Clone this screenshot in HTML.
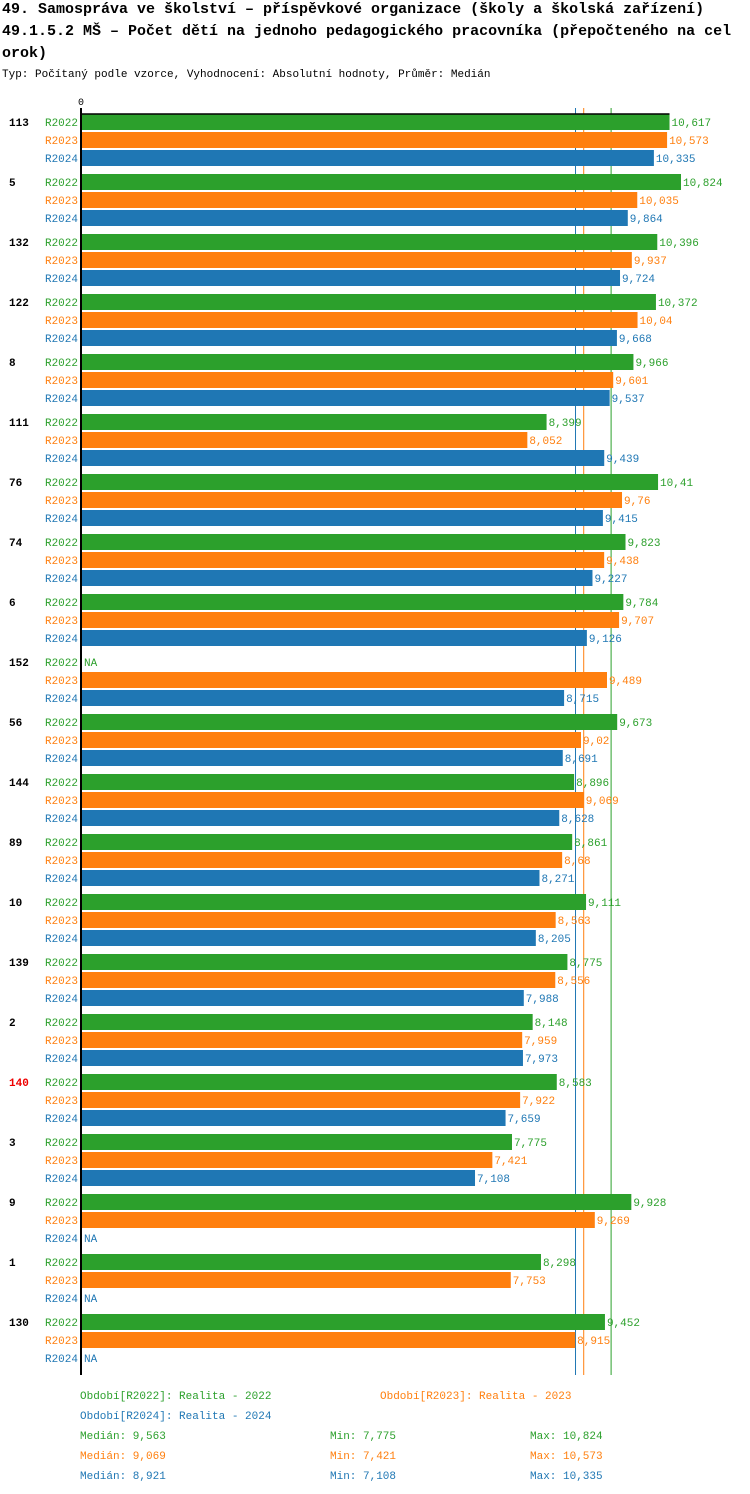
<!DOCTYPE html>
<html><head><meta charset="utf-8"><style>
body{margin:0;background:#fff;width:750px;height:1494px;overflow:hidden}
svg{display:block;font-family:"Liberation Mono",monospace}
</style></head><body>
<svg id="c" width="750" height="1494">
<text x="2" y="13" font-size="15" font-weight="bold">49. Samospráva ve školství – příspěvkové organizace (školy a školská zařízení)</text>
<text x="2" y="35" font-size="15" font-weight="bold">49.1.5.2 MŠ – Počet dětí na jednoho pedagogického pracovníka (přepočteného na cel</text>
<text x="2" y="57" font-size="15" font-weight="bold">orok)</text>
<text x="2" y="77" font-size="11">Typ: Počítaný podle vzorce, Vyhodnocení: Absolutní hodnoty, Průměr: Medián</text>
<text x="78" y="105" font-size="10">0</text>
</svg>
<script>
const categories=["113","5","132","122","8","111","76","74","6","152","56","144","89","10","139","2","140","3","9","1","130"];
const seriesNames=["R2022","R2023","R2024"];
const r2022=[10.617,10.824,10.396,10.372,9.966,8.399,10.41,9.823,9.784,null,9.673,8.896,8.861,9.111,8.775,8.148,8.583,7.775,9.928,8.298,9.452];
const r2023=[10.573,10.035,9.937,10.04,9.601,8.052,9.76,9.438,9.707,9.489,9.02,9.069,8.68,8.563,8.556,7.959,7.922,7.421,9.269,7.753,8.915];
const r2024=[10.335,9.864,9.724,9.668,9.537,9.439,9.415,9.227,9.126,8.715,8.691,8.628,8.271,8.205,7.988,7.973,7.659,7.108,null,null,null];
const medians=[9.563,9.069,8.921];
const mins=[7.775,7.421,7.108];
const maxs=[10.824,10.573,10.335];
const colors=["#2ca02c","#ff7f0e","#1f77b4"];
const NS="http://www.w3.org/2000/svg";
const svg=document.getElementById('c');
const X0=81,K=600/10.824;
const x=v=>X0+v*K;
const gy=i=>114+i*60;
function el(t,a,txt){const e=document.createElementNS(NS,t);for(const k in a)e.setAttribute(k,a[k]);if(txt!=null)e.textContent=txt;svg.appendChild(e);return e;}
const fmt=v=>String(v).replace('.',',');
const series=[r2022,r2023,r2024];
const bottom=gy(categories.length)+1;
medians.forEach((m,j)=>{
  const ln=el('line',{x1:x(m),x2:x(m),y1:108,y2:bottom,stroke:colors[j],'stroke-width':1});
  
  
});
categories.forEach((c,i)=>{
  const t=el('text',{x:9,y:gy(i)+12,'font-size':11,'font-weight':'bold',fill:c==="140"?"#e00":"#000"},c);
  
  
  series.forEach((s,j)=>{
    const y=gy(i)+j*18;
    const l=el('text',{x:78,y:y+12,'font-size':11,'text-anchor':'end',fill:colors[j]},seriesNames[j]);
    
    
    const v=s[i];
    if(v==null){
      const n=el('text',{x:84,y:y+12,'font-size':11,fill:colors[j]},'NA');
      
      
      return;
    }
    const r=el('rect',{x:X0,y:y,width:x(v)-X0,height:16,fill:colors[j]});
    
    
    const vt=el('text',{x:x(v)+2,y:y+12,'font-size':11,fill:colors[j]},fmt(v));
    
    
  });
});
const ax=el('line',{x1:X0,x2:X0,y1:108,y2:bottom,stroke:'#000','stroke-width':2});


const tl=el('line',{x1:X0,x2:x(r2022[0]),y1:114,y2:114,stroke:'#000','stroke-width':1.5});


const lg=[[80,1399,"Období[R2022]: Realita - 2022",0],[380,1399,"Období[R2023]: Realita - 2023",1],[80,1419,"Období[R2024]: Realita - 2024",2]];
lg.forEach(a=>{
  const t=el('text',{x:a[0],y:a[1],'font-size':11,fill:colors[a[3]]},a[2]);
  
  
});
for(let j=0;j<3;j++){
  const y=1439+j*20;
  const a=el('text',{x:80,y:y,'font-size':11,fill:colors[j]},'Medián: '+fmt(medians[j]));
  
  
  const b=el('text',{x:330,y:y,'font-size':11,fill:colors[j]},'Min: '+fmt(mins[j]));
  
  
  const c=el('text',{x:530,y:y,'font-size':11,fill:colors[j]},'Max: '+fmt(maxs[j]));
  
  
}
</script>
</body></html>
